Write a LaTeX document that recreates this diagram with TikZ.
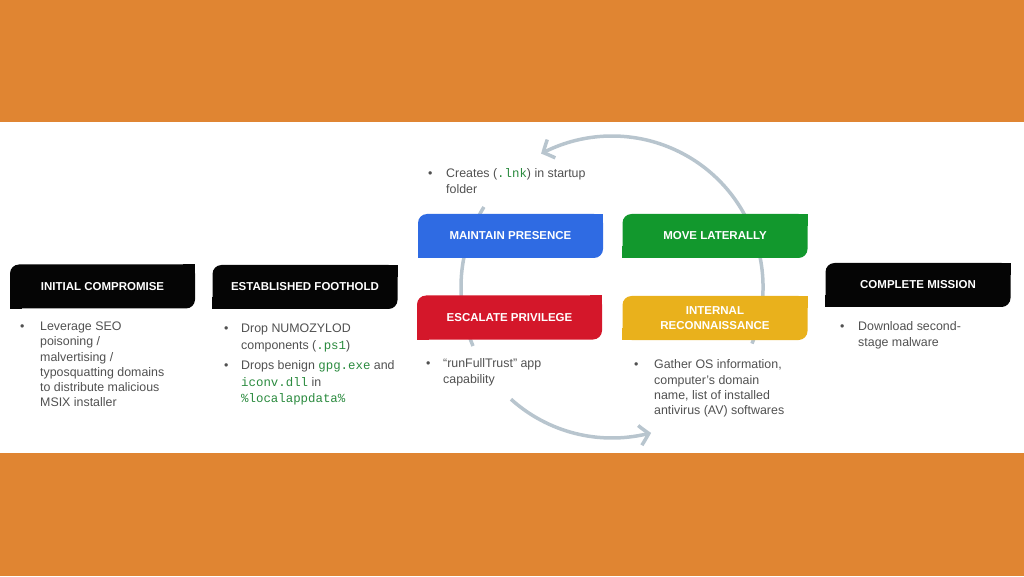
\documentclass[tikz,border=0pt]{standalone}
\usepackage{fontspec}
\setmainfont{Liberation Sans}
\setmonofont{Liberation Mono}
\usepackage{tikz}
\usetikzlibrary{arrows.meta,bending}
\definecolor{bandorange}{HTML}{E08532}
\definecolor{stageblack}{HTML}{050505}
\definecolor{stageblue}{HTML}{2F6BE3}
\definecolor{stagegreen}{HTML}{12982D}
\definecolor{stagered}{HTML}{D4172A}
\definecolor{stageyellow}{HTML}{E9B11C}
\definecolor{cyclegray}{HTML}{B8C5CE}
\definecolor{notegray}{HTML}{505050}
\definecolor{codegreen}{HTML}{2A8A3E}
\newcommand{\code}[1]{{\ttfamily\color{codegreen}#1}}
\tikzset{
  stage/.style = {rounded corners=9pt, minimum width=185pt, minimum height=44pt, inner sep=0pt,
                  text=white, align=center, font=\bfseries\fontsize{11.5}{15}\selectfont},
  note/.style  = {anchor=north west, inner sep=0pt, text=notegray,
                  font=\fontsize{12.4}{15.3}\selectfont},
  cycle/.style = {draw=cyclegray, line width=3.5pt},
  tip/.style   = {-{Straight Barb[length=9pt,width=20pt,bend]}},
}
\begin{document}
\begin{tikzpicture}[x=1pt,y=1pt]
  \useasboundingbox (0,0) rectangle (1024,576);
  % bands
  \fill[bandorange] (0,454) rectangle (1024,576);
  \fill[bandorange] (0,0) rectangle (1024,123);
  % cycle behind the four middle stages
  \coordinate (hub) at (612,289);
  \draw[cycle,tip] ([shift={(-22:151pt)}]hub) arc[start angle=-22, end angle=118, radius=151pt];
  \draw[cycle] ([shift={(148:151pt)}]hub) arc[start angle=148, end angle=203, radius=151pt];
  \draw[cycle,tip] ([shift={(228:151pt)}]hub) arc[start angle=228, end angle=285, radius=151pt];
  % stages
  \node[stage, fill=stageblack] (init) at (102.5,289.5) {INITIAL COMPROMISE};
  \node[stage, fill=stageblack] (hold) at (305,289) {ESTABLISHED FOOTHOLD};
  \node[stage, fill=stageblue] (keep) at (510.5,340) {MAINTAIN PRESENCE};
  \node[stage, fill=stagegreen] (lateral) at (715,340) {MOVE LATERALLY};
  \node[stage, fill=stagered] (escalate) at (509.5,258.5) {ESCALATE PRIVILEGE};
  \node[stage, fill=stageyellow] (recon) at (715,258) {INTERNAL\\RECONNAISSANCE};
  \node[stage, fill=stageblack] (mission) at (918,291) {COMPLETE MISSION};
  \foreach \n/\c in {init/stageblack, hold/stageblack, keep/stageblue, lateral/stagegreen,
                     escalate/stagered, recon/stageyellow, mission/stageblack} {
    \fill[\c] (\n.north east) rectangle ++(-12,-12);
    \fill[\c] (\n.south west) rectangle ++(12,12);
  }
  % notes
  \node[note] (initnote) at (20,256.5) {\begin{tabular}{@{}p{20pt}@{}l@{}}
    \textbullet & Leverage SEO\\ & poisoning /\\ & malvertising /\\
    & typosquatting domains\\ & to distribute malicious\\ & MSIX installer\end{tabular}};
  \node[note] (holdnote) at (224,254.5) {\begin{tabular}{@{}p{17pt}@{}l@{}}
    \textbullet & Drop NUMOZYLOD\\[1.7pt] & components (\code{.ps1})\\[4.7pt]
    \textbullet & Drops benign \code{gpg.exe} and\\[1.7pt] & \code{iconv.dll} in\\[0.7pt]
    & \code{\%localappdata\%}\end{tabular}};
  \node[note] (keepnote) at (428,409) {\begin{tabular}{@{}p{18pt}@{}l@{}}
    \textbullet & Creates (\code{.lnk}) in startup\\[0.7pt] & folder\end{tabular}};
  \node[note] (escalatenote) at (426,219) {\begin{tabular}{@{}p{17pt}@{}l@{}}
    \textbullet & “runFullTrust” app\\[0.7pt] & capability\end{tabular}};
  \node[note] (reconnote) at (634,218) {\begin{tabular}{@{}p{20pt}@{}l@{}}
    \textbullet & Gather OS information,\\ & computer’s domain\\
    & name, list of installed\\ & antivirus (AV) softwares\end{tabular}};
  \node[note] (missionnote) at (840,256) {\begin{tabular}{@{}p{18pt}@{}l@{}}
    \textbullet & Download second-\\ & stage malware\end{tabular}};
\end{tikzpicture}
\end{document}
